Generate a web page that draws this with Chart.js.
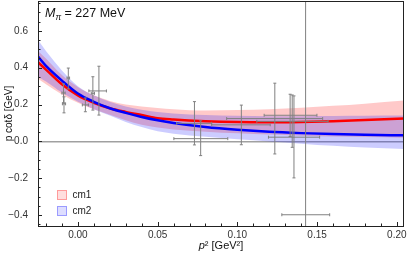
<!DOCTYPE html>
<html>
<head>
    <title>p cot delta</title>
    <script src="https://cdn.jsdelivr.net/npm/chart.js"></script>
    <style>
        html, body { margin: 0; padding: 0; background: #fff; }
        #grafico { display: block; }
    </style>
</head>
<body>
    <canvas id="grafico" width="407" height="257"></canvas>
    <script>
        // curve sample points (p^2 in GeV^2)
        const curveX = [-0.025, -0.02, -0.01, 0, 0.01, 0.02, 0.03, 0.04, 0.05, 0.06, 0.08, 0.10, 0.12, 0.14, 0.16, 0.18, 0.2045];
        const cm1 = [0.43, 0.39, 0.31, 0.25, 0.21, 0.18, 0.16, 0.143, 0.126, 0.119, 0.110, 0.105, 0.104, 0.106, 0.110, 0.116, 0.124];
        const cm1Upper = [0.49, 0.45, 0.36, 0.295, 0.25, 0.22, 0.20, 0.19, 0.182, 0.175, 0.168, 0.170, 0.175, 0.183, 0.193, 0.205, 0.222];
        const cm1Lower = [0.34, 0.31, 0.255, 0.21, 0.175, 0.145, 0.115, 0.09, 0.075, 0.065, 0.053, 0.044, 0.037, 0.031, 0.027, 0.024, 0.02];
        const cm2 = [0.46, 0.41, 0.33, 0.26, 0.215, 0.18, 0.155, 0.133, 0.115, 0.100, 0.078, 0.063, 0.052, 0.045, 0.040, 0.036, 0.033];
        const cm2Upper = [0.55, 0.49, 0.385, 0.30, 0.25, 0.215, 0.19, 0.172, 0.16, 0.152, 0.143, 0.139, 0.137, 0.137, 0.138, 0.139, 0.14];
        const cm2Lower = [0.35, 0.325, 0.265, 0.215, 0.175, 0.14, 0.105, 0.078, 0.055, 0.042, 0.025, 0.012, 0.0, -0.012, -0.024, -0.033, -0.041];

        // lattice points with error bars
        const ptX    = [-0.0090, -0.0087, -0.0060, 0.0047, 0.0094, 0.0132, 0.0731, 0.0770, 0.1025, 0.1235, 0.1331, 0.1344, 0.1355, 0.1428];
        const ptY    = [0.263, 0.204, 0.344, 0.198, 0.261, 0.274, 0.098, 0.015, 0.090, 0.124, 0.142, 0.109, 0.023, -0.398];
        const ptYLow = [0.209, 0.155, 0.285, 0.161, 0.170, 0.143, -0.019, -0.077, -0.018, -0.068, 0.027, -0.032, -0.198, -1.5];
        const ptYHigh= [0.312, 0.242, 0.398, 0.236, 0.351, 0.408, 0.216, 0.112, 0.197, 0.316, 0.256, 0.252, 0.247, 0.9];
        const ptXLow = [-0.0100, -0.0097, -0.0068, 0.0028, 0.0084, 0.0069, 0.0619, 0.0602, 0.0839, 0.0933, 0.1168, 0.1122, 0.1195, 0.1279];
        const ptXHigh= [-0.0080, -0.0077, -0.0052, 0.0066, 0.0104, 0.0179, 0.0839, 0.0940, 0.1206, 0.1535, 0.1499, 0.1569, 0.1516, 0.1579];

        const legendLabels = ['cm1', 'cm2'];

        const FONTE = '"Liberation Sans", Arial, sans-serif';
        const pares = arr => arr.map((v, i) => ({ x: curveX[i], y: v }));
        const menos = s => s.replace('-', '\u2212');

        // frame, inward ticks, error bars and texts
        const extras = {
            id: 'extras',
            afterDatasetsDraw(chart) {
                const { ctx, chartArea: a, scales: { x, y } } = chart;
                ctx.save();
                ctx.beginPath();
                ctx.rect(a.left, a.top, a.right - a.left, a.bottom - a.top);
                ctx.clip();
                ctx.strokeStyle = 'rgb(128,128,128)';
                ctx.lineWidth = 1;
                for (let i = 0; i < ptX.length; i++) {
                    const px = x.getPixelForValue(ptX[i]);
                    const py = y.getPixelForValue(ptY[i]);
                    const y1 = y.getPixelForValue(ptYLow[i]);
                    const y2 = y.getPixelForValue(ptYHigh[i]);
                    const x1 = x.getPixelForValue(ptXLow[i]);
                    const x2 = x.getPixelForValue(ptXHigh[i]);
                    ctx.beginPath();
                    ctx.moveTo(px, y1); ctx.lineTo(px, y2);
                    ctx.moveTo(px - 1.5, y1); ctx.lineTo(px + 1.5, y1);
                    ctx.moveTo(px - 1.5, y2); ctx.lineTo(px + 1.5, y2);
                    ctx.moveTo(x1, py); ctx.lineTo(x2, py);
                    ctx.moveTo(x1, py - 1.5); ctx.lineTo(x1, py + 1.5);
                    ctx.moveTo(x2, py - 1.5); ctx.lineTo(x2, py + 1.5);
                    ctx.stroke();
                }
                ctx.restore();

                ctx.save();
                ctx.strokeStyle = '#222';
                ctx.lineWidth = 1;
                ctx.strokeRect(a.left + 0.5, a.top + 0.5, a.right - a.left - 1, a.bottom - a.top);
                ctx.beginPath();
                for (let i = -2; i <= 20; i++) {
                    const px = Math.round(x.getPixelForValue(i / 100)) + 0.5;
                    const len = i % 5 === 0 ? 4 : 2.5;
                    ctx.moveTo(px, a.bottom); ctx.lineTo(px, a.bottom - len);
                }
                for (let i = -9; i <= 15; i++) {
                    const py = Math.round(y.getPixelForValue(i * 0.05)) + 0.5;
                    const len = i % 4 === 0 ? 4 : 2.5;
                    ctx.moveTo(a.left, py); ctx.lineTo(a.left + len, py);
                }
                ctx.stroke();

                // label M_pi
                ctx.fillStyle = '#111';
                ctx.textBaseline = 'alphabetic';
                ctx.textAlign = 'left';
                let tx = 45;
                ctx.font = 'italic 12.5px ' + FONTE;
                ctx.fillText('M', tx, 17);
                tx += ctx.measureText('M').width;
                ctx.font = 'italic 8.5px ' + FONTE;
                ctx.fillText('\u03c0', tx, 20);
                tx += ctx.measureText('\u03c0').width;
                ctx.font = '12.5px ' + FONTE;
                ctx.fillText(' = 227 MeV', tx, 17);

                // legend
                const cores = [['rgba(255,0,0,0.13)', 'rgba(255,0,0,0.3)'], ['rgba(0,0,255,0.13)', 'rgba(0,0,255,0.3)']];
                ctx.font = '10px ' + FONTE;
                ctx.textBaseline = 'middle';
                legendLabels.forEach((t, i) => {
                    const by = 190 + i * 16;
                    ctx.fillStyle = cores[i][0];
                    ctx.fillRect(57, by, 10, 10);
                    ctx.strokeStyle = cores[i][1];
                    ctx.strokeRect(57.5, by + 0.5, 9, 9);
                    ctx.fillStyle = '#222';
                    ctx.fillText(t, 72.5, by + 5);
                });

                // axis titles
                ctx.fillStyle = '#111';
                ctx.textAlign = 'center';
                ctx.textBaseline = 'middle';
                ctx.save();
                ctx.translate(9, (a.top + a.bottom) / 2);
                ctx.rotate(-Math.PI / 2);
                ctx.font = '10px ' + FONTE;
                ctx.fillText('p cot\u03b4 [GeV]', 0, 0);
                ctx.restore();

                ctx.textAlign = 'left';
                ctx.textBaseline = 'alphabetic';
                const cx = (a.left + a.right) / 2;
                ctx.font = 'italic 11px ' + FONTE;
                const wp = ctx.measureText('p').width;
                ctx.font = '11px ' + FONTE;
                const wr = ctx.measureText('\u00b2 [GeV\u00b2]').width;
                let sx = cx - (wp + wr) / 2;
                ctx.font = 'italic 11px ' + FONTE;
                ctx.fillText('p', sx, 249);
                ctx.font = '11px ' + FONTE;
                ctx.fillText('\u00b2 [GeV\u00b2]', sx + wp, 249);
                ctx.restore();
            }
        };

        new Chart(document.getElementById('grafico'), {
            type: 'line',
            data: {
                datasets: [
                    { data: pares(cm1Lower), order: 5, borderWidth: 0, pointRadius: 0, fill: false, cubicInterpolationMode: 'monotone' },
                    { data: pares(cm1Upper), order: 4, borderWidth: 0, pointRadius: 0, fill: '-1', backgroundColor: 'rgba(255,0,0,0.21)', cubicInterpolationMode: 'monotone' },
                    { data: pares(cm2Lower), order: 3, borderWidth: 0, pointRadius: 0, fill: false, cubicInterpolationMode: 'monotone' },
                    { data: pares(cm2Upper), order: 2, borderWidth: 0, pointRadius: 0, fill: '-1', backgroundColor: 'rgba(0,0,255,0.2)', cubicInterpolationMode: 'monotone' },
                    { data: pares(cm1), order: 1, borderColor: '#ff0000', borderWidth: 2.5, pointRadius: 0, fill: false, cubicInterpolationMode: 'monotone' },
                    { data: pares(cm2), order: 0, borderColor: '#0000ff', borderWidth: 2.5, pointRadius: 0, fill: false, cubicInterpolationMode: 'monotone' }
                ]
            },
            options: {
                responsive: false,
                animation: false,
                layout: { padding: { top: 1, right: 3, left: 0, bottom: 0 } },
                plugins: { legend: { display: false }, tooltip: { enabled: false } },
                scales: {
                    x: {
                        type: 'linear',
                        min: -0.025,
                        max: 0.2045,
                        afterFit: s => { s.height = 31; s.paddingLeft = 0; s.paddingRight = 0; },
                        border: { display: false },
                        grid: { display: false, drawTicks: false },
                        ticks: {
                            stepSize: 0.05,
                            includeBounds: false,
                            padding: 3,
                            color: '#333',
                            font: { family: FONTE, size: 10 },
                            maxRotation: 0,
                            callback: v => menos(v.toFixed(2))
                        }
                    },
                    y: {
                        min: -0.459,
                        max: 0.762,
                        afterFit: s => { s.width = 38; s.paddingTop = 0; s.paddingBottom = 0; },
                        border: { display: false },
                        grid: {
                            drawTicks: false,
                            lineWidth: 1.5,
                            color: c => Math.abs(c.tick.value) < 1e-9 ? 'rgba(150,150,150,0.9)' : 'rgba(0,0,0,0)'
                        },
                        ticks: {
                            stepSize: 0.2,
                            includeBounds: false,
                            padding: 10,
                            color: '#333',
                            font: { family: FONTE, size: 10 },
                            callback: v => menos((Math.abs(v) < 1e-9 ? 0 : v).toFixed(1))
                        }
                    }
                }
            },
            plugins: [extras]
        });
    </script>
</body>
</html>
